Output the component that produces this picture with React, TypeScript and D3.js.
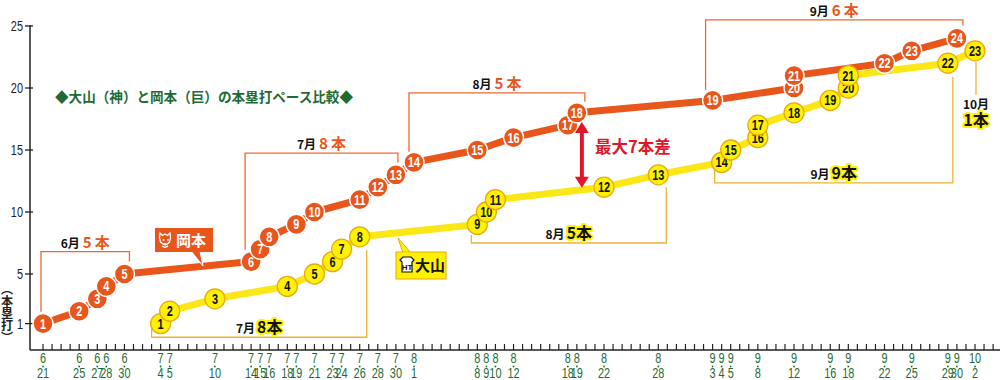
import React from "react";
import * as d3 from "d3";

// ---- data ----
const okamotoDates = ["6/21","6/25","6/27","6/28","6/30","7/14","7/15","7/16","7/19","7/21","7/26","7/28","7/30","8/1","8/8","8/12","8/18","8/19","9/3","9/12","9/12","9/22","9/25","9/30"];
const okamotoHR = [1,2,3,4,5,6,7,8,9,10,11,12,13,14,15,16,17,18,19,20,21,22,23,24];
const oyamaDates = ["7/4","7/5","7/10","7/18","7/21","7/23","7/24","7/26","8/8","8/9","8/10","8/22","8/28","9/4","9/5","9/8","9/8","9/12","9/16","9/18","9/18","9/29","10/2"];
const oyamaHR = [1,2,3,4,5,6,7,8,9,10,11,12,13,14,15,16,17,18,19,20,21,22,23];
const tickDates = ["6/21","6/25","6/27","6/28","6/30","7/4","7/5","7/10","7/14","7/15","7/16","7/18","7/19","7/21","7/23","7/24","7/26","7/28","7/30","8/1","8/8","8/9","8/10","8/12","8/18","8/19","8/22","8/28","9/3","9/4","9/5","9/8","9/12","9/16","9/18","9/22","9/25","9/29","9/30","10/2"];
const yTicks = [1, 5, 10, 15, 20, 25];

const okaMonthLabels = ["6月", "7月", "8月", "9月"];
const okaMonthCounts = ["5", "8", "5", "6"];
const okaMonthFrom = ["6/21", "7/14", "8/1", "9/3"];
const okaMonthTo = ["6/30", "7/30", "8/19", "9/30"];
const oyaMonthLabels = ["7月", "8月", "9月"];
const oyaMonthCounts = ["8", "5", "9"];
const oyaMonthFrom = ["7/4", "8/8", "9/4"];
const oyaMonthTo = ["7/26", "8/28", "9/29"];

const TITLE = "◆大山（神）と岡本（巨）の本塁打ペース比較◆";

// ---- styles ----
const ORANGE = "#e9561b";
const YELLOW = "#fbe616";
const YELLOW_FILL = "#fff100";
const YELLOW_STROKE = "#e8aa10";
const GREEN = "#1f6b35";
const RED = "#e2162b";
const NUM_FONT = "'Liberation Sans', Arial, sans-serif";
const JP_FONT = "'Noto Sans CJK JP', 'Noto Sans', sans-serif";
const SQ = 0.78; // horizontal squeeze for condensed digits

const parse = (s: string) => {
  const [m, d] = s.split("/").map(Number);
  return new Date(Date.UTC(2020, m - 1, d));
};

export default function App() {
  const W = 1000, H = 380;
  const x = d3.scaleUtc().domain([parse("6/21"), parse("10/2")]).range([43, 975]);
  const y = d3.scaleLinear().domain([1, 25]).range([323.6, 26]);

  const oka = okamotoDates.map((d, i) => ({ date: parse(d), v: okamotoHR[i] }));
  const oya = oyamaDates.map((d, i) => ({ date: parse(d), v: oyamaHR[i] }));
  const line = d3.line<{ date: Date; v: number }>().x(d => x(d.date)).y(d => y(d.v));

  const dayTicks = d3.utcDay.range(parse("6/21"), parse("10/5"));

  // bracket layout (annotation geometry, in data units)
  const okaBr = [
    { dx0: -2, dx1: 5, top: 6.8, e0: 1.95, e1: 6.0 },
    { dx0: -6, dx1: 2, top: 14.75, e0: 6.95, e1: 14.0 },
    { dx0: -5, dx1: 8, top: 19.6, e0: 14.85, e1: 18.9 },
    { dx0: -7, dx1: 6, top: 25.5, e0: 19.85, e1: 25.05 },
  ];
  const oyaBr = [
    { dx0: -9, dx1: 7, bot: -0.1, e0: 1.15, e1: 6.95 },
    { dx0: -6, dx1: 8, bot: 7.5, e0: 8.15, e1: 12.0 },
    { dx0: -7, dx1: 5, bot: 12.35, e0: 13.4, e1: 20.9 },
  ];

  const arrowX = x(parse("8/19")) + 5;
  const arrowTop = y(17.25);
  const arrowBot = y(11.95);

  const halo = { stroke: YELLOW_FILL, strokeWidth: 4, paintOrder: "stroke", strokeLinejoin: "round" as const };

  return (
    <svg width={W} height={H} style={{ position: "absolute", left: 0, top: 0, background: "#fff" }}>
      <rect x={0} y={0} width={W} height={H} fill="#ffffff" />

      {/* title */}
      <text x={55} y={102} fontFamily={JP_FONT} fontWeight={700} fontSize={14} fill={GREEN} textLength={298} lengthAdjust="spacingAndGlyphs">{TITLE}</text>

      {/* axes */}
      <line x1={30} y1={25} x2={30} y2={350} stroke="#222" strokeWidth={1.5} />
      <line x1={30} y1={350} x2={1000} y2={350} stroke="#222" strokeWidth={1.5} />
      {yTicks.map(t => (
        <g key={"yt" + t}>
          <line x1={25} x2={33} y1={y(t)} y2={y(t)} stroke="#222" strokeWidth={1.3} />
          <text transform={`translate(23,${y(t)}) scale(${SQ},1)`} dy="0.36em" textAnchor="end" fontFamily={NUM_FONT} fontSize={14} fill="#222">{t}</text>
        </g>
      ))}
      <text x={7} y={283} fontFamily={JP_FONT} fontSize={12} fontWeight={700} fill="#222" style={{ writingMode: "vertical-rl" }}>（本塁打）</text>
      {dayTicks.map((d, i) => (
        <line key={"dt" + i} x1={x(d)} x2={x(d)} y1={344} y2={350} stroke="#222" strokeWidth={1.2} />
      ))}
      {tickDates.map(s => {
        const [m, d] = s.split("/");
        const xx = x(parse(s));
        return (
          <g key={"tl" + s} fill={GREEN} fontFamily={NUM_FONT} fontSize={14}>
            <text transform={`translate(${xx},363) scale(${SQ},1)`} textAnchor="middle">{m}</text>
            <circle cx={xx} cy={366.5} r={0.9} />
            <text transform={`translate(${xx},378) scale(${SQ},1)`} textAnchor="middle">{d}</text>
          </g>
        );
      })}

      {/* Okamoto brackets */}
      {okaBr.map((b, i) => {
        const x0 = x(parse(okaMonthFrom[i])) + b.dx0;
        const x1 = x(parse(okaMonthTo[i])) + b.dx1;
        const yt = y(b.top);
        return (
          <g key={"ob" + i}>
            <path d={`M${x0},${y(b.e0)}V${yt}H${x1}V${y(b.e1)}`} fill="none" stroke="#ec6a33" strokeWidth={1.3} />
            <text x={(x0 + x1) / 2} y={yt - 4} textAnchor="middle" fontFamily={JP_FONT} fontWeight={700}>
              <tspan fontSize={12} fill="#111">{okaMonthLabels[i]}</tspan>
              <tspan fontSize={15} fill={ORANGE} dx={3}>{okaMonthCounts[i]}</tspan>
              <tspan fontSize={15} fill={ORANGE} dx={3}>本</tspan>
            </text>
          </g>
        );
      })}

      {/* Oyama brackets */}
      {oyaBr.map((b, i) => {
        const x0 = x(parse(oyaMonthFrom[i])) + b.dx0;
        const x1 = x(parse(oyaMonthTo[i])) + b.dx1;
        const yb = y(b.bot);
        return (
          <g key={"yb" + i}>
            <path d={`M${x0},${y(b.e0)}V${yb}H${x1}V${y(b.e1)}`} fill="none" stroke="#efb238" strokeWidth={1.3} />
            <text x={(x0 + x1) / 2} y={yb - 4} textAnchor="middle" fontFamily={JP_FONT} fontWeight={700}>
              <tspan fontSize={12} fill="#111">{oyaMonthLabels[i]}</tspan>
              <tspan fontSize={16} fill="#111" dx={2} {...halo}>{oyaMonthCounts[i]}本</tspan>
            </text>
          </g>
        );
      })}

      {/* October Oyama */}
      <line x1={x(parse("10/2")) + 1} x2={x(parse("10/2")) + 1} y1={y(22.1)} y2={y(19.45)} stroke="#efb238" strokeWidth={1.3} />
      <text x={x(parse("10/2")) + 1} y={109} textAnchor="middle" fontFamily={JP_FONT} fontWeight={700} fontSize={12} fill="#111">10月</text>
      <text x={x(parse("10/2")) + 1} y={126} textAnchor="middle" fontFamily={JP_FONT} fontWeight={700} fontSize={16} fill="#111" {...halo}>1本</text>

      {/* lines */}
      <path d={line(oka) || ""} fill="none" stroke={ORANGE} strokeWidth={7} strokeLinejoin="round" />
      <path d={line(oya) || ""} fill="none" stroke={YELLOW} strokeWidth={7} strokeLinejoin="round" />

      {/* Okamoto callout */}
      <g>
        <path d="M191,251 L203,266 L200,251 Z" fill={ORANGE} stroke="#fff" strokeWidth={1} />
        <rect x={155} y={228} width={58} height={24} fill={ORANGE} />
        <path d="M194,250.5 L201,250.5" stroke={ORANGE} strokeWidth={2} />
        <g fill="none" stroke="#fff" strokeWidth={1.3}>
          <path d="M160,233 l2.5,2.5 l2.5,-1.5 l2.5,1.5 l2.5,-2.5 l0.5,5 l-1,4 q-4,5 -9,0 l-1,-4 z" />
          <path d="M162.5,240 h2 M167,240 h2 M165,243 v2.5 M162,246 q3,2.5 6,0" />
        </g>
        <text x={176} y={245.5} fontFamily={JP_FONT} fontWeight={700} fontSize={15} fill="#fff">岡本</text>
      </g>

      {/* Oyama callout */}
      <g>
        <path d="M398,238 L403,253 L411,253 Z" fill={YELLOW_FILL} stroke={YELLOW_STROKE} strokeWidth={1} />
        <rect x={396} y={252} width={50} height={27} fill={YELLOW_FILL} stroke={YELLOW_STROKE} strokeWidth={1} />
        <path d="M403,253.5 L410.5,253.5" stroke={YELLOW_FILL} strokeWidth={2} />
        <path d="M400,260 l3,-3 h8 l3,3 l-2,2 v10 h-10 v-10 z" fill="#fff" stroke="#111" strokeWidth={1.2} />
        <text x={407} y={270} textAnchor="middle" fontFamily={NUM_FONT} fontWeight={700} fontSize={8} fill="#111">HT</text>
        <text x={415} y={271} fontFamily={JP_FONT} fontWeight={700} fontSize={15} fill="#111">大山</text>
      </g>

      {/* circles */}
      {oka.map((d, i) => (
        <g key={"oc" + i} transform={`translate(${x(d.date)},${y(d.v)})`}>
          <circle r={10} fill={ORANGE} stroke="#fff" strokeWidth={1.4} />
          <text transform={`scale(${SQ},1)`} dy="0.36em" textAnchor="middle" fontFamily={NUM_FONT} fontWeight={700} fontSize={14} fill="#fff">{d.v}</text>
        </g>
      ))}
      {oya.map((d, i) => (
        <g key={"yc" + i} transform={`translate(${x(d.date)},${y(d.v)})`}>
          <circle r={10} fill={YELLOW_FILL} stroke={YELLOW_STROKE} strokeWidth={1.3} />
          <text transform={`scale(${SQ},1)`} dy="0.36em" textAnchor="middle" fontFamily={NUM_FONT} fontWeight={700} fontSize={14} fill="#111">{d.v}</text>
        </g>
      ))}

      {/* max difference arrow */}
      <g fill={RED}>
        <rect x={arrowX - 2} y={arrowTop + 9} width={4} height={arrowBot - arrowTop - 18} />
        <path d={`M${arrowX},${arrowTop} L${arrowX + 7},${arrowTop + 11} L${arrowX - 7},${arrowTop + 11} Z`} />
        <path d={`M${arrowX},${arrowBot} L${arrowX + 7},${arrowBot - 11} L${arrowX - 7},${arrowBot - 11} Z`} />
      </g>
      <text x={595} y={153} fontFamily={JP_FONT} fontWeight={700} fontSize={16.5} fill={RED}>最大7本差</text>
    </svg>
  );
}
